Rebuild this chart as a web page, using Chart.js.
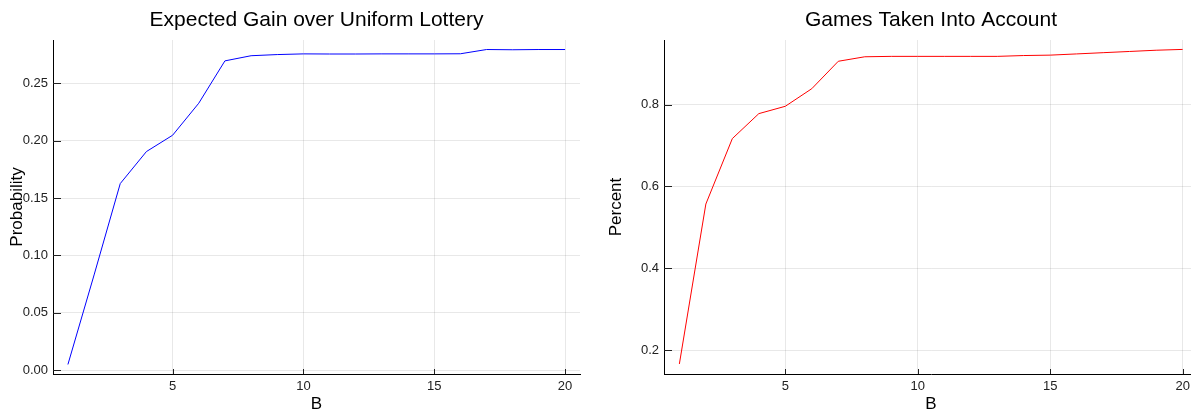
<!DOCTYPE html>
<html>
<head>
<meta charset="utf-8">
<title>Expected Gain and Games Taken Into Account</title>
<script src="https://cdn.jsdelivr.net/npm/chart.js@4/dist/chart.umd.min.js"></script>
<style>
  html, body { margin: 0; padding: 0; background: #ffffff; overflow: hidden; }
  body { width: 1191px; height: 415px; position: relative; }
  .panel { position: absolute; top: 0; height: 415px; }
  #leftPanel { left: 0; width: 595px; }
  #rightPanel { left: 595px; width: 610px; }
</style>
</head>
<body>
<div class="panel" id="leftPanel"><canvas id="gainChart"></canvas></div>
<div class="panel" id="rightPanel"><canvas id="gamesChart"></canvas></div>
<script>
// B values (number of games considered)
const bValues = [1, 2, 3, 4, 5, 6, 7, 8, 9, 10, 11, 12, 13, 14, 15, 16, 17, 18, 19, 20];

// Expected gain over a uniform lottery (probability)
const gainValues = [0.005, 0.083, 0.1626, 0.1905, 0.2047, 0.2326, 0.2695, 0.2740, 0.2750, 0.2756,
                    0.2755, 0.2755, 0.2756, 0.2756, 0.2756, 0.2757, 0.2794, 0.2792, 0.2794, 0.2794];

// Share of games taken into account
const gamesValues = [0.166, 0.557, 0.717, 0.778, 0.796, 0.839, 0.906, 0.917, 0.918, 0.918,
                     0.918, 0.918, 0.918, 0.920, 0.921, 0.924, 0.927, 0.930, 0.933, 0.935];

// Tick labels
const xTicks = [5, 10, 15, 20];
const gainTicks = [0.00, 0.05, 0.10, 0.15, 0.20, 0.25];
const gamesTicks = [0.2, 0.4, 0.6, 0.8];

const FONT = '"Liberation Sans", Arial, Helvetica, sans-serif';

// Short tick marks drawn inward from the axis lines
const innerTicks = {
  id: 'innerTicks',
  afterDraw(chart) {
    const { ctx, chartArea, scales: { x, y } } = chart;
    ctx.save();
    ctx.strokeStyle = '#222222';
    ctx.lineWidth = 1;
    ctx.beginPath();
    x.ticks.forEach(t => {
      const px = Math.round(x.getPixelForValue(t.value)) + 0.5;
      ctx.moveTo(px, chartArea.bottom);
      ctx.lineTo(px, chartArea.bottom - 5);
    });
    y.ticks.forEach(t => {
      const py = Math.round(y.getPixelForValue(t.value)) + 0.5;
      ctx.moveTo(chartArea.left, py);
      ctx.lineTo(chartArea.left + 8, py);
    });
    ctx.stroke();
    ctx.restore();
  }
};

// Panel title centred over the plotting area
const panelTitle = {
  id: 'panelTitle',
  afterDraw(chart, args, opts) {
    const { ctx, chartArea } = chart;
    ctx.save();
    ctx.font = 'normal 21px ' + FONT;
    ctx.fillStyle = '#000000';
    ctx.textAlign = 'center';
    ctx.textBaseline = 'middle';
    ctx.fillText(opts.text, (chartArea.left + chartArea.right) / 2, 20);
    ctx.restore();
  }
};

function makeChart(canvasId, cfg) {
  const points = bValues.map((b, i) => ({ x: b, y: cfg.values[i] }));
  return new Chart(document.getElementById(canvasId), {
    type: 'line',
    data: {
      datasets: [{
        data: points,
        borderColor: cfg.color,
        borderWidth: 1,
        pointRadius: 0,
        tension: 0,
        fill: false
      }]
    },
    options: {
      responsive: true,
      maintainAspectRatio: false,
      animation: false,
      layout: { padding: { left: 0, right: cfg.padRight, top: 40, bottom: 0 } },
      plugins: {
        legend: { display: false },
        tooltip: { enabled: false },
        title: { display: false },
        panelTitle: { text: cfg.title }
      },
      scales: {
        x: {
          type: 'linear',
          min: cfg.xMin,
          max: cfg.xMax,
          afterBuildTicks: s => { s.ticks = xTicks.map(v => ({ value: v })); },
          afterFit: s => { s.height = 41; },
          grid: { color: 'rgba(0,0,0,0.09)', lineWidth: 1, drawTicks: false },
          border: { display: true, color: '#000000', width: 1 },
          ticks: {
            color: '#222222',
            padding: 5,
            maxRotation: 0,
            font: { family: FONT, size: 13 },
            callback: v => String(v)
          },
          title: {
            display: true,
            text: 'B',
            color: '#000000',
            font: { family: FONT, size: 17, lineHeight: 1.2 },
            padding: { top: 0, bottom: 0 }
          }
        },
        y: {
          type: 'linear',
          min: cfg.yMin,
          max: cfg.yMax,
          afterBuildTicks: s => { s.ticks = cfg.yTicks.map(v => ({ value: v })); },
          afterFit: s => { s.width = cfg.yWidth; },
          grid: { color: 'rgba(0,0,0,0.09)', lineWidth: 1, drawTicks: false },
          border: { display: true, color: '#000000', width: 1 },
          ticks: {
            color: '#222222',
            padding: 5,
            font: { family: FONT, size: 13 },
            callback: v => v.toFixed(cfg.decimals)
          },
          title: {
            display: true,
            text: cfg.yLabel,
            color: '#000000',
            font: { family: FONT, size: 17, lineHeight: 1.2 },
            padding: { top: cfg.yTitlePad, bottom: 0 }
          }
        }
      }
    },
    plugins: [innerTicks, panelTitle]
  });
}

makeChart('gainChart', {
  title: 'Expected Gain over Uniform Lottery',
  yLabel: 'Probability',
  values: gainValues,
  color: '#0000ff',
  xMin: 0.43, xMax: 20.57,
  yMin: -0.0033, yMax: 0.2877,
  yTicks: gainTicks,
  decimals: 2,
  yWidth: 53,
  yTitlePad: 7,
  padRight: 15
});

makeChart('gamesChart', {
  title: 'Games Taken Into Account',
  yLabel: 'Percent',
  values: gamesValues,
  color: '#ff0000',
  xMin: 0.42, xMax: 20.58,
  yMin: 0.1415, yMax: 0.958,
  yTicks: gamesTicks,
  decimals: 1,
  yWidth: 69,
  yTitlePad: 11,
  padRight: 7
});
</script>
</body>
</html>
